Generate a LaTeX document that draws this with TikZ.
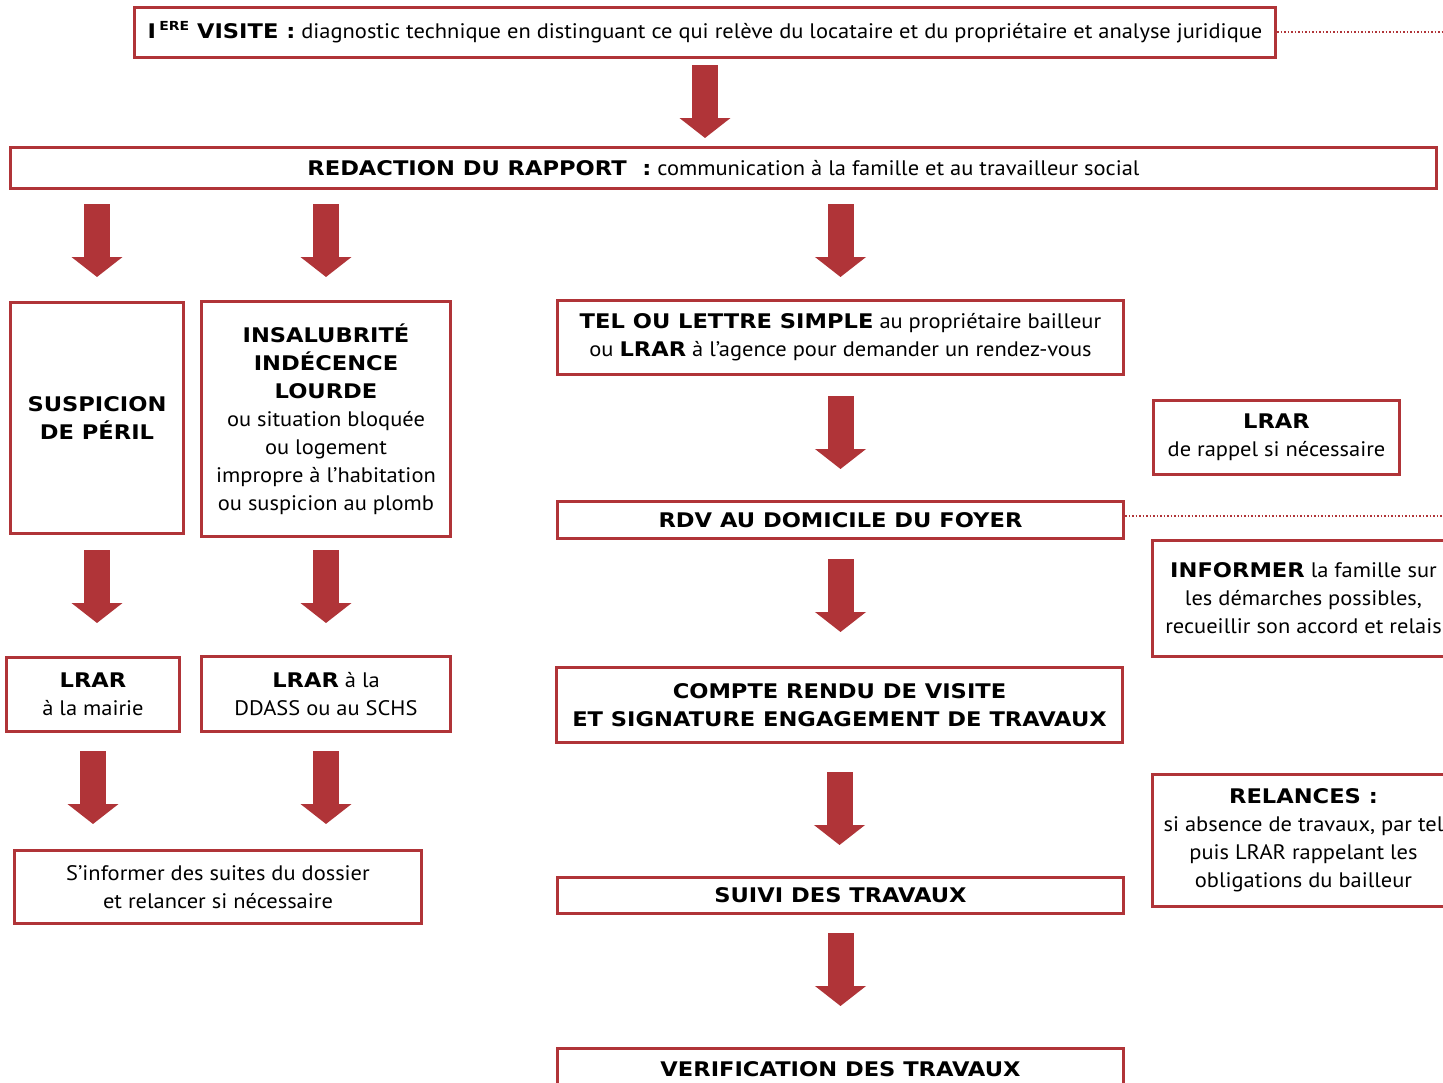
\documentclass[tikz,border=0pt]{standalone}
\usepackage{fontspec}
\setmainfont{PT Sans}[FakeStretch=1.07, BoldFont={DejaVu Sans Bold}, BoldFeatures={Scale=0.96, FakeStretch=1.12}]
\usetikzlibrary{arrows.meta}
\definecolor{rouge}{RGB}{176,52,56}
\newcommand{\bodyf}{\fontsize{21}{28}\selectfont}
\tikzset{
  box/.style={draw=rouge, line width=3pt, inner sep=0pt, align=center, font=\bodyf, anchor=north west},
  flow/.style={draw=rouge, line width=26pt, -{Triangle[width=50pt,length=20pt]}},
  dotline/.style={draw=rouge, line width=1.5pt, dotted}
}
\begin{document}
\begin{tikzpicture}[x=1pt,y=-1pt]
\useasboundingbox (0,0) rectangle (1443,1082);
\fill[white] (0,0) rectangle (1443,1082);
% boxes
\node[box, minimum width=1141pt, minimum height=50pt] (top) at (133,6)
  {\textbf{I\,\raisebox{0.7ex}{\fontsize{13}{13}\selectfont ERE} VISITE :} diagnostic technique en distinguant ce qui relève du locataire et du propriétaire et analyse juridique};
\node[box, minimum width=1426pt, minimum height=41pt] (rapport) at (9,146)
  {\textbf{REDACTION DU RAPPORT\ \ :} communication à la famille et au travailleur social};
\node[box, minimum width=173pt, minimum height=231pt] (susp) at (9,301)
  {\textbf{SUSPICION}\\\textbf{DE PÉRIL}};
\node[box, minimum width=249pt, minimum height=235pt] (insal) at (200,300)
  {\textbf{INSALUBRITÉ}\\\textbf{INDÉCENCE}\\\textbf{LOURDE}\\ou situation bloquée\\ou logement\\impropre à l’habitation\\ou suspicion au plomb};
\node[box, minimum width=566pt, minimum height=74pt] (tel) at (556,299)
  {\textbf{TEL OU LETTRE SIMPLE} au propriétaire bailleur\\ou \textbf{LRAR} à l’agence pour demander un rendez-vous};
\node[box, minimum width=246pt, minimum height=74pt] (rappel) at (1152,399)
  {\textbf{LRAR}\\de rappel si nécessaire};
\node[box, minimum width=566pt, minimum height=37pt] (rdv) at (556,500)
  {\textbf{RDV AU DOMICILE DU FOYER}};
\node[box, minimum width=302pt, minimum height=116pt] (informer) at (1151,539)
  {\textbf{INFORMER} la famille sur\\les démarches possibles,\\recueillir son accord et relais};
\node[box, minimum width=173pt, minimum height=74pt] (mairie) at (5,656)
  {\textbf{LRAR}\\à la mairie};
\node[box, minimum width=249pt, minimum height=75pt] (ddass) at (200,655)
  {\textbf{LRAR} à la\\DDASS ou au SCHS};
\node[box, minimum width=566pt, minimum height=75pt] (compte) at (555,666)
  {\textbf{COMPTE RENDU DE VISITE}\\\textbf{ET SIGNATURE ENGAGEMENT DE TRAVAUX}};
\node[box, minimum width=302pt, minimum height=132pt] (relances) at (1151,773)
  {\textbf{RELANCES :}\\si absence de travaux, par tel\\puis LRAR rappelant les\\obligations du bailleur};
\node[box, minimum width=407pt, minimum height=73pt] (sinf) at (13,849)
  {S’informer des suites du dossier\\et relancer si nécessaire};
\node[box, minimum width=566pt, minimum height=36pt] (suivi) at (556,876)
  {\textbf{SUIVI DES TRAVAUX}};
\node[box, minimum width=566pt, minimum height=41pt] (verif) at (556,1047)
  {\textbf{VERIFICATION DES TRAVAUX}};
% dotted lines
\coordinate (e1) at (1443,32);
\coordinate (e2) at (1443,516);
\draw[dotline] (top.east |- e1) -- (e1);
\draw[dotline] (rdv.east |- e2) -- (e2);
% block arrows
\draw[flow, shorten <=6pt, shorten >=8pt] (top.south) -- (top.south |- rapport.north);
\draw[flow, shorten <=14pt, shorten >=24pt] (rapport.south -| susp.north) -- (susp.north);
\draw[flow, shorten <=14pt, shorten >=23pt] (rapport.south -| insal.north) -- (insal.north);
\draw[flow, shorten <=14pt, shorten >=22pt] (rapport.south -| tel.north) -- (tel.north);
\draw[flow, shorten <=15pt, shorten >=33pt] (susp.south) -- (susp.south |- mairie.north);
\draw[flow, shorten <=12pt, shorten >=32pt] (insal.south) -- (insal.south |- ddass.north);
\draw[flow, shorten <=18pt, shorten >=25pt] (mairie.south) -- (mairie.south |- sinf.north);
\draw[flow, shorten <=18pt, shorten >=25pt] (ddass.south) -- (ddass.south |- sinf.north);
\draw[flow, shorten <=20pt, shorten >=31pt] (tel.south) -- (rdv.north);
\draw[flow, shorten <=19pt, shorten >=34pt] (rdv.south) -- (rdv.south |- compte.north);
\draw[flow, shorten <=28pt, shorten >=31pt] (compte.south) -- (compte.south |- suivi.north);
\draw[flow, shorten <=18pt, shorten >=41pt] (suivi.south) -- (verif.north);
\end{tikzpicture}
\end{document}
